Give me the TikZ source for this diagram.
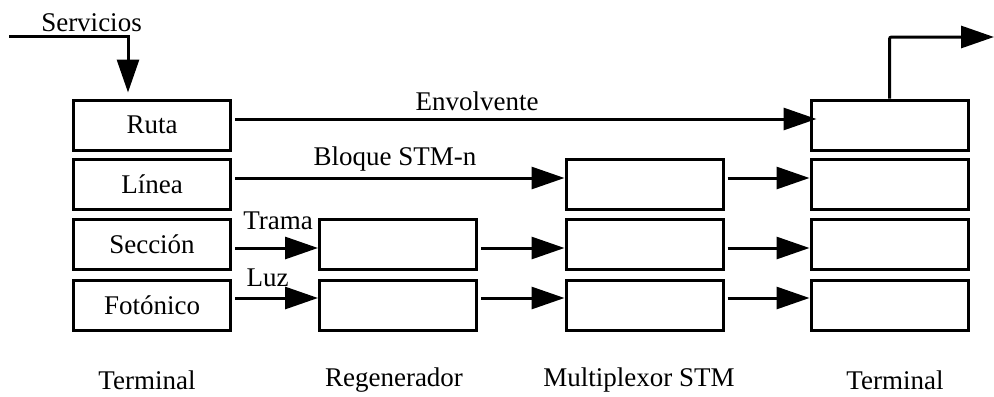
\documentclass[tikz,border=0pt]{standalone}
\usepackage{fontspec}
\setmainfont{Liberation Serif}
\usetikzlibrary{arrows.meta}

\tikzset{
  capa/.style={draw, line width=1.5pt, minimum width=78.5pt, minimum height=25pt,
    inner sep=0pt, font=\fontsize{13.5}{16}\selectfont},
  flecha/.style={line width=1.5pt, -{Triangle[length=16.5pt,width=11pt]}},
  rotulo/.style={inner sep=0pt, font=\fontsize{13.5}{16}\selectfont}
}

\begin{document}
\begin{tikzpicture}[x=0.5pt, y=-0.5pt]
    \useasboundingbox (0,0) rectangle (994,396);

    % capas de los dos terminales
    \foreach \nombre/\texto/\y in {ruta/Ruta/125, linea/L\'inea/184,
      seccion/Secci\'on/244, fotonico/Fot\'onico/305}
    {
      \node[capa] (\nombre) at (152,\y) {\texto};
      \node[capa] (t\nombre) at (889.5,\y) {};
    }

    % regenerador y multiplexor
    \node[capa] (regseccion) at (398,244) {};
    \node[capa] (regfotonico) at (398,305) {};
    \node[capa] (muxlinea) at (644.5,184) {};
    \node[capa] (muxseccion) at (644.5,244) {};
    \node[capa] (muxfotonico) at (644.5,305) {};

    % entrada y salida de servicios
    \node[rotulo,anchor=base] (servicios) at (91.5,31) {Servicios};
    \coordinate (entrada) at (9,36);
    \coordinate (salida) at (994,37);
    \draw[flecha] (entrada) -| ([xshift=-12pt,yshift=3pt]ruta.north);
    \draw[flecha,rounded corners=1pt] (truta.north) |- (salida);

    % flujos entre capas
    \draw[flecha,shorten <=1.5pt] ([yshift=3pt]ruta.east) -- ([xshift=3.5pt,yshift=3pt]truta.west);
    \draw[flecha,shorten <=1.5pt] ([yshift=3pt]linea.east) -- ([yshift=3pt]muxlinea.west);
    \draw[flecha,shorten <=1.5pt] ([yshift=-2pt]seccion.east) -- ([yshift=-2pt]regseccion.west);
    \draw[flecha,shorten <=1.5pt] ([yshift=3.5pt]fotonico.east) -- ([yshift=3.5pt]regfotonico.west);
    \draw[flecha,shorten <=1.5pt] ([yshift=-2pt]regseccion.east) -- ([yshift=-2pt]muxseccion.west);
    \draw[flecha,shorten <=1.5pt] ([yshift=3.5pt]regfotonico.east) -- ([yshift=3.5pt]muxfotonico.west);
    \draw[flecha,shorten <=1.5pt] ([yshift=3pt]muxlinea.east) -- ([yshift=3pt]tlinea.west);
    \draw[flecha,shorten <=1.5pt] ([yshift=-2pt]muxseccion.east) -- ([yshift=-2pt]tseccion.west);
    \draw[flecha,shorten <=1.5pt] ([yshift=3.5pt]muxfotonico.east) -- ([yshift=3.5pt]tfotonico.west);

    % rotulos de los flujos
    \node[rotulo] (envolvente) at (477,101) {Envolvente};
    \node[rotulo] (bloque) at (395,159) {Bloque STM-n};
    \node[rotulo] (trama) at (278,221) {Trama};
    \node[rotulo] (luz) at (267.5,278) {Luz};

    % equipos
    \node[rotulo] (terminalA) at (147,380) {Terminal};
    \node[rotulo] (regenerador) at (394,380) {Regenerador};
    \node[rotulo] (multiplexor) at (639,380) {Multiplexor STM};
    \node[rotulo] (terminalB) at (895,380) {Terminal};

\end{tikzpicture}
\end{document}
